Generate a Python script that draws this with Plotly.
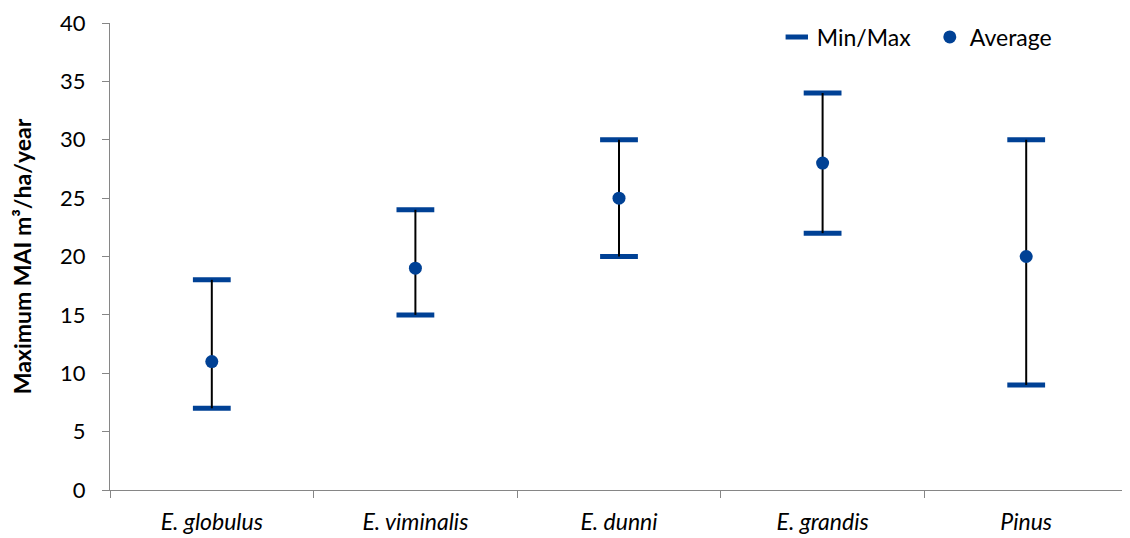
import plotly.graph_objects as go

categories = ["E. globulus", "E. viminalis", "E. dunni", "E. grandis", "Pinus"]
min_vals = [7, 15, 20, 22, 9]
max_vals = [18, 24, 30, 34, 30]
avg_vals = [11, 19, 25, 28, 20]
y_ticks = [0, 5, 10, 15, 20, 25, 30, 35, 40]

BLUE = "#004195"
FONT = "Lato"

cat_labels = [f"<i>{c}</i>" for c in categories]

fig = go.Figure()

fig.add_trace(go.Scatter(
    x=cat_labels + cat_labels,
    y=min_vals + max_vals,
    mode="markers",
    name="Min/Max",
    marker=dict(symbol="line-ew", size=27, line=dict(width=5, color=BLUE), color=BLUE),
))

fig.add_trace(go.Scatter(
    x=cat_labels,
    y=avg_vals,
    mode="markers",
    name="Average",
    marker=dict(symbol="circle", size=13, color=BLUE),
    error_y=dict(
        type="data",
        symmetric=False,
        array=[mx - a for mx, a in zip(max_vals, avg_vals)],
        arrayminus=[a - mn for mn, a in zip(min_vals, avg_vals)],
        color="black",
        thickness=2,
        width=0,
    ),
))

fig.update_layout(
    width=1130,
    height=538,
    margin=dict(l=102, r=10, t=15, b=56, autoexpand=False),
    plot_bgcolor="white",
    paper_bgcolor="white",
    font=dict(family=FONT, size=22, color="black"),
    showlegend=True,
    legend=dict(
        orientation="h",
        x=0.655, xanchor="left",
        y=0.97, yanchor="middle",
        font=dict(size=23, family=FONT),
        bgcolor="rgba(0,0,0,0)",
        itemwidth=30,
        entrywidth=108,
        entrywidthmode="pixels",
    ),
    xaxis=dict(
        type="category",
        categoryorder="array",
        categoryarray=cat_labels,
        showline=True,
        linecolor="#868686",
        linewidth=1,
        ticks="outside",
        tickson="boundaries",
        ticklen=7,
        tickcolor="#868686",
        showgrid=False,
        tickfont=dict(size=23, family=FONT),
        ticklabelstandoff=11,
        range=[-0.5, 4.5],
    ),
    yaxis=dict(
        range=[0, 40],
        tickvals=y_ticks,
        showline=True,
        linecolor="#868686",
        linewidth=1,
        ticks="outside",
        ticklen=7,
        tickcolor="#868686",
        showgrid=False,
        zeroline=False,
        tickfont=dict(size=22, family=FONT),
        ticklabelstandoff=12,
        ticklabeloverflow="allow",
        title=dict(text="<b>Maximum MAI m³/ha/year</b>", font=dict(size=23, family=FONT), standoff=24),
    ),
)

fig.write_html("out.html")
